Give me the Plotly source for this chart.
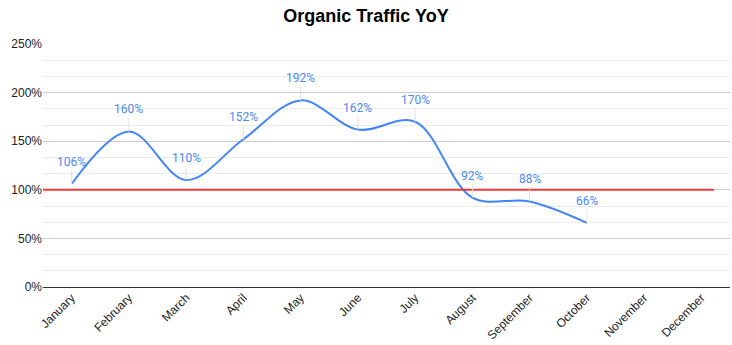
import plotly.graph_objects as go

months = ["January", "February", "March", "April", "May", "June",
          "July", "August", "September", "October", "November", "December"]
traffic_yoy = [106, 160, 110, 152, 192, 162, 170, 92, 88, 66, None, None]
target = 100
y_ticks = [0, 50, 100, 150, 200, 250]
y_tick_labels = ["0%", "50%", "100%", "150%", "200%", "250%"]

fig = go.Figure()
fig.add_trace(go.Scatter(
    x=months, y=traffic_yoy, mode="lines",
    line=dict(color="#4285f4", width=2, shape="spline", smoothing=1.0),
    hoverinfo="x+y", showlegend=False,
))

for m, v in zip(months, traffic_yoy):
    if v is None:
        continue
    fig.add_annotation(
        x=m, y=v, text=f"{v}%", showarrow=True, arrowhead=0,
        arrowwidth=1, arrowcolor="#e0e0e0", ax=0, ay=-22,
        font=dict(family="Roboto, Arial, sans-serif", size=12, color="#4a8af4"),
        xref="x", yref="y", standoff=0, startstandoff=0,
    )

fig.add_shape(type="line", xref="x", yref="y", x0=-0.5, x1=11.22,
              y0=target, y1=target, line=dict(color="#ee3a3a", width=2), layer="above")

fig.update_layout(
    width=732, height=345,
    margin=dict(l=43, r=2, t=44, b=58),
    paper_bgcolor="white", plot_bgcolor="white",
    title=dict(text="<b>Organic Traffic YoY</b>", x=0.5, xanchor="center",
               y=0.955, yanchor="middle",
               font=dict(family="Arial, Liberation Sans, sans-serif", size=18, color="#000")),
    xaxis=dict(
        type="category", categoryorder="array", categoryarray=months,
        range=[-0.5, 11.5], tickangle=-45, showgrid=False,
        showline=True, linecolor="#333333", linewidth=1, ticks="",
        ticklabelstandoff=-2,
        tickfont=dict(family="Arial, Liberation Sans, sans-serif", size=12, color="#222"),
        fixedrange=True,
    ),
    yaxis=dict(
        range=[0, 250], tickmode="array", tickvals=y_ticks, ticktext=y_tick_labels,
        showgrid=True, gridcolor="#cccccc", gridwidth=1, zeroline=False,
        ticks="", tickfont=dict(family="Arial, Liberation Sans, sans-serif", size=12, color="#222"),
        minor=dict(tickmode="linear", tick0=0, dtick=50 / 3, showgrid=True,
                   gridcolor="#ebebeb", gridwidth=1, ticks=""),
        fixedrange=True,
    ),
)

fig.write_html("out.html")
